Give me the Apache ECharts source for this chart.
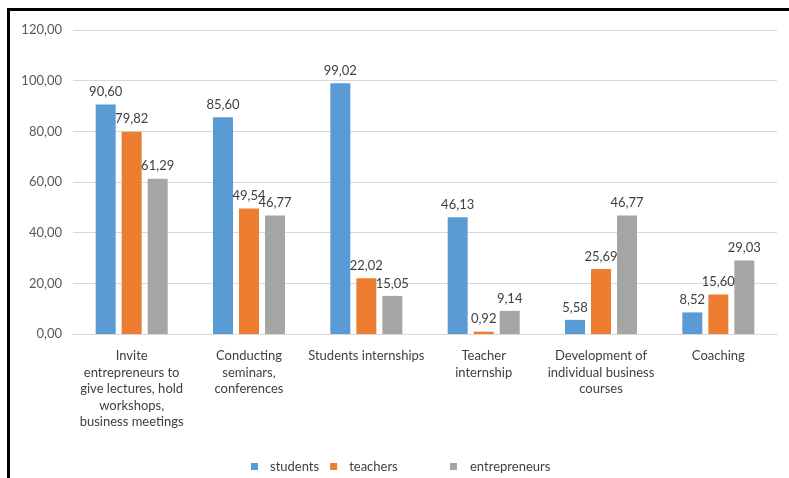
<!DOCTYPE html>
<html>
<head>
<meta charset="utf-8">
<script src="https://cdn.jsdelivr.net/npm/echarts@6/dist/echarts.min.js"></script>
<style>html,body{margin:0;padding:0;background:#fff;}#c{width:789px;height:478px;}</style>
</head>
<body>
<div id="c"></div>
<script>
const categories = [
  'Invite\nentrepreneurs to\ngive lectures, hold\nworkshops,\nbusiness meetings',
  'Conducting\nseminars,\nconferences',
  'Students internships',
  'Teacher\ninternship',
  'Development of\nindividual business\ncourses',
  'Coaching'
];
const students = [90.60, 85.60, 99.02, 46.13, 5.58, 8.52];
const teachers = [79.82, 49.54, 22.02, 0.92, 25.69, 15.60];
const entrepreneurs = [61.29, 46.77, 15.05, 9.14, 46.77, 29.03];
const yTicks = { min: 0, max: 120, interval: 20 };

const FONT = 'Lato';
const fmt = v => v.toFixed(2).replace('.', ',');

function mkSeries(name, data, color) {
  return {
    name, type: 'bar', data,
    barWidth: 20, barGap: '30%',
    itemStyle: { color },
    label: {
      show: true, position: 'top', distance: 6,
      color: '#404040', fontFamily: FONT, fontSize: 13,
      formatter: p => fmt(p.value)
    }
  };
}

const chart = echarts.init(document.getElementById('c'));
chart.setOption({
  animation: false,
  backgroundColor: '#fff',
  textStyle: { fontFamily: FONT },
  grid: { left: 73, right: 12, top: 30, bottom: 144 },
  graphic: [
    { type: 'rect', shape: { x: 7, y: 8, width: 782, height: 3 }, style: { fill: '#000' } },
    { type: 'rect', shape: { x: 7, y: 8, width: 3, height: 470 }, style: { fill: '#000' } }
  ],
  legend: [
    {
      data: ['students', 'teachers'], left: 246, top: 455,
      icon: 'rect', itemWidth: 7, itemHeight: 7, itemGap: 11,
      textStyle: { color: '#404040', fontFamily: FONT, fontSize: 13, padding: [0, 0, 0, 7] }
    },
    {
      data: ['entrepreneurs'], left: 445, top: 455,
      icon: 'rect', itemWidth: 7, itemHeight: 7,
      textStyle: { color: '#404040', fontFamily: FONT, fontSize: 13, padding: [0, 0, 0, 8] }
    }
  ],
  xAxis: {
    type: 'category', data: categories,
    axisLine: { lineStyle: { color: '#d9d9d9', width: 1 } },
    axisTick: { show: false },
    axisLabel: {
      interval: 0, margin: 14, color: '#404040', fontFamily: FONT, fontSize: 13,
      lineHeight: 16.5, align: 'center', verticalAlign: 'top'
    }
  },
  yAxis: {
    type: 'value', min: yTicks.min, max: yTicks.max, interval: yTicks.interval,
    axisLine: { show: false }, axisTick: { show: false },
    splitLine: { lineStyle: { color: '#d9d9d9', width: 1 } },
    axisLabel: { margin: 11, color: '#595959', fontFamily: FONT, fontSize: 13, formatter: v => fmt(v) }
  },
  series: [
    mkSeries('students', students, '#5B9BD5'),
    mkSeries('teachers', teachers, '#ED7D31'),
    mkSeries('entrepreneurs', entrepreneurs, '#A5A5A5')
  ]
});
</script>
</body>
</html>
